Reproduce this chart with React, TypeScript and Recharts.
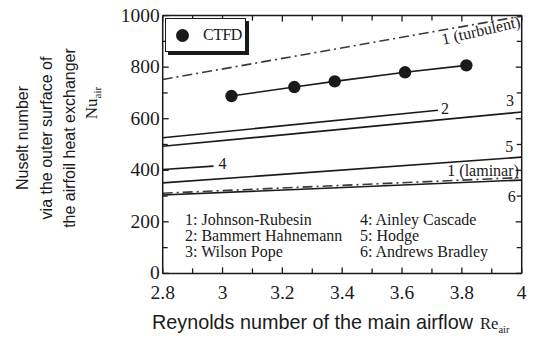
import React from 'react';
import { LineChart, Line, XAxis, YAxis, ReferenceDot } from 'recharts';

// values
const ctfdRe = [3.03, 3.24, 3.375, 3.61, 3.815];
const ctfdNu = [688, 723, 745, 780, 807];

const turbulentRe = [2.8, 4.0];
const turbulentNu = [752, 998];
const bammertRe = [2.8, 3.72];
const bammertNu = [526, 633];
const wilsonRe = [2.8, 4.0];
const wilsonNu = [493, 626];
const ainleyRe = [2.8, 2.97];
const ainleyNu = [403, 416];
const hodgeRe = [2.8, 4.0];
const hodgeNu = [351, 451];
const laminarRe = [2.8, 4.0];
const laminarNu = [311, 372];
const andrewsRe = [2.8, 4.0];
const andrewsNu = [304, 362];

const xTicks = [2.8, 2.9, 3.0, 3.1, 3.2, 3.3, 3.4, 3.5, 3.6, 3.7, 3.8, 3.9, 4.0];
const xLabels = ['2.8', '', '3', '', '3.2', '', '3.4', '', '3.6', '', '3.8', '', '4'];
const yTicks = [0, 100, 200, 300, 400, 500, 600, 700, 800, 900, 1000];
const yLabels = ['0', '', '200', '', '400', '', '600', '', '800', '', '1000'];

const methodNames = [
  '1: Johnson-Rubesin',
  '2: Bammert Hahnemann',
  '3: Wilson Pope',
  '4: Ainley Cascade',
  '5: Hodge',
  '6: Andrews Bradley',
];

// line annotations: text, anchor in data space, rotation
const lineNotes = [
  { text: '1 (turbulent)', re: 3.864, nu: 941, angle: -13 },
  { text: '2', re: 3.744, nu: 639, angle: 0 },
  { text: '3', re: 3.961, nu: 670, angle: 0 },
  { text: '4', re: 3.0, nu: 426, angle: 0 },
  { text: '5', re: 3.958, nu: 490, angle: 0 },
  { text: '1 (laminar)', re: 3.871, nu: 397, angle: 0 },
  { text: '6', re: 3.967, nu: 297, angle: 0 },
];

const toPoints = (re: number[], nu: number[]) => re.map((r, i) => ({ re: r, nu: nu[i] }));

const SERIF = '"Liberation Serif", "DejaVu Serif", serif';
const SANS = '"Liberation Sans", Arial, sans-serif';
const INK = '#1a1a1a';
const DASHDOT = '10 4 2 4';

const W = 533;
const H = 338;

function BottomTick(props: any) {
  const { x, y, index } = props;
  const label = xLabels[index];
  const len = label ? 6 : 5;
  return (
    <g>
      <line x1={x} x2={x} y1={y} y2={y - len} stroke={INK} strokeWidth={1.3} />
      {label && (
        <text x={x} y={y + 25.5} textAnchor="middle" fontFamily={SERIF} fontSize={19.5} fill={INK}>
          {label}
        </text>
      )}
    </g>
  );
}

function TopTick(props: any) {
  const { x, y, index } = props;
  const len = xLabels[index] ? 6 : 5;
  return <line x1={x} x2={x} y1={y} y2={y + len} stroke={INK} strokeWidth={1.3} />;
}

function LeftTick(props: any) {
  const { x, y, index } = props;
  const label = yLabels[index];
  const len = label ? 6 : 5;
  return (
    <g>
      <line x1={x} x2={x + len} y1={y} y2={y} stroke={INK} strokeWidth={1.3} />
      {label && (
        <text x={x - 3} y={y + 6} textAnchor="end" fontFamily={SERIF} fontSize={19.5} fill={INK}>
          {label}
        </text>
      )}
    </g>
  );
}

function RightTick(props: any) {
  const { x, y, index } = props;
  const len = yLabels[index] ? 6 : 5;
  return <line x1={x} x2={x - len} y1={y} y2={y} stroke={INK} strokeWidth={1.3} />;
}

export default function App() {
  const series = [
    { key: 'turb', re: turbulentRe, nu: turbulentNu, dash: DASHDOT, color: '#3a3a3a' },
    { key: 'bam', re: bammertRe, nu: bammertNu, dash: undefined, color: INK },
    { key: 'wil', re: wilsonRe, nu: wilsonNu, dash: undefined, color: INK },
    { key: 'ain', re: ainleyRe, nu: ainleyNu, dash: undefined, color: INK },
    { key: 'hod', re: hodgeRe, nu: hodgeNu, dash: undefined, color: INK },
    { key: 'lam', re: laminarRe, nu: laminarNu, dash: DASHDOT, color: '#3a3a3a' },
    { key: 'and', re: andrewsRe, nu: andrewsNu, dash: undefined, color: INK },
  ];

  return (
    <div style={{ position: 'absolute', left: 0, top: 0, width: W, height: H, background: '#fff' }}>
      <LineChart width={W} height={H} margin={{ top: 14.6, right: 10.3, bottom: 34.6, left: 2 }}>
        <XAxis
          xAxisId="bottom"
          type="number"
          dataKey="re"
          domain={[2.8, 4]}
          ticks={xTicks}
          interval={0}
          height={30}
          tickSize={0}
          tickMargin={0}
          tickLine={false}
          tick={<BottomTick />}
          axisLine={{ stroke: INK, strokeWidth: 1.5 }}
          allowDataOverflow
        />
        <XAxis
          xAxisId="top"
          orientation="top"
          type="number"
          dataKey="re"
          domain={[2.8, 4]}
          ticks={xTicks}
          interval={0}
          height={1}
          tickSize={0}
          tickMargin={0}
          tickLine={false}
          tick={<TopTick />}
          axisLine={{ stroke: INK, strokeWidth: 1.5 }}
          allowDataOverflow
        />
        <YAxis
          yAxisId="left"
          type="number"
          domain={[0, 1000]}
          ticks={yTicks}
          interval={0}
          width={160.7}
          tickSize={0}
          tickMargin={0}
          tickLine={false}
          tick={<LeftTick />}
          axisLine={{ stroke: INK, strokeWidth: 1.5 }}
          allowDataOverflow
        />
        <YAxis
          yAxisId="right"
          orientation="right"
          type="number"
          domain={[0, 1000]}
          ticks={yTicks}
          interval={0}
          width={1}
          tickSize={0}
          tickMargin={0}
          tickLine={false}
          tick={<RightTick />}
          axisLine={{ stroke: INK, strokeWidth: 1.5 }}
          allowDataOverflow
        />
        {series.map((s) => (
          <Line
            key={s.key}
            xAxisId="bottom"
            yAxisId="left"
            data={toPoints(s.re, s.nu)}
            dataKey="nu"
            type="linear"
            stroke={s.color}
            strokeWidth={1.6}
            strokeDasharray={s.dash}
            dot={false}
            isAnimationActive={false}
          />
        ))}
        <Line
          xAxisId="bottom"
          yAxisId="left"
          data={toPoints(ctfdRe, ctfdNu)}
          dataKey="nu"
          type="linear"
          stroke={INK}
          strokeWidth={1.6}
          dot={{ r: 6.2, fill: INK, stroke: INK, strokeWidth: 0 }}
          isAnimationActive={false}
        />
        {lineNotes.map((n) => (
          <ReferenceDot
            key={n.text}
            xAxisId="bottom"
            yAxisId="left"
            x={n.re}
            y={n.nu}
            r={0}
            stroke="none"
            fill="none"
            label={(p: any) => {
              const vb = p.viewBox || {};
              const cx = (vb.x ?? 0) + (vb.width ?? 0) / 2;
              const cy = (vb.y ?? 0) + (vb.height ?? 0) / 2;
              return (
                <text
                  x={cx}
                  y={cy}
                  dy={5}
                  textAnchor="middle"
                  fontFamily={SERIF}
                  fontSize={16}
                  fill={INK}
                  transform={`rotate(${n.angle} ${cx} ${cy})`}
                >
                  {n.text}
                </text>
              );
            }}
          />
        ))}
      </LineChart>

      {/* CTFD legend box */}
      <div
        style={{
          position: 'absolute',
          left: 165,
          top: 18,
          width: 81,
          height: 34,
          boxSizing: 'border-box',
          border: `1px solid ${INK}`,
          boxShadow: `3px 3px 0 ${INK}`,
          background: '#fff',
          display: 'flex',
          alignItems: 'center',
        }}
      >
        <div style={{ width: 13, height: 13, borderRadius: '50%', background: INK, marginLeft: 10 }} />
        <span style={{ fontFamily: SERIF, fontSize: 16, color: INK, marginLeft: 14, letterSpacing: -0.5 }}>CTFD</span>
      </div>

      {/* method list */}
      {methodNames.map((m, i) => (
        <div
          key={m}
          style={{
            position: 'absolute',
            left: i < 3 ? 185 : 360,
            top: 209.5 + (i % 3) * 16.3,
            fontFamily: SERIF,
            fontSize: 16,
            lineHeight: '20px',
            color: INK,
            whiteSpace: 'nowrap',
          }}
        >
          {m}
        </div>
      ))}

      {/* y axis title */}
      <div
        style={{
          position: 'absolute',
          left: 47 - 130,
          top: 138 - 36,
          width: 260,
          height: 72,
          transform: 'rotate(-90deg)',
          textAlign: 'center',
          fontFamily: SANS,
          fontSize: 16,
          lineHeight: '23.5px',
          color: INK,
        }}
      >
        Nuselt number
        <br />
        via the outer surface of
        <br />
        the airfoil heat exchanger
      </div>
      <div
        style={{
          position: 'absolute',
          left: 92 - 30,
          top: 103 - 11,
          width: 60,
          height: 22,
          transform: 'rotate(-90deg)',
          textAlign: 'center',
          fontFamily: SERIF,
          fontSize: 17,
          lineHeight: '22px',
          color: INK,
        }}
      >
        Nu<sub style={{ fontSize: 11 }}>air</sub>
      </div>

      {/* x axis title */}
      <div
        style={{
          position: 'absolute',
          left: 152,
          top: 310,
          fontFamily: SANS,
          fontSize: 19.8,
          lineHeight: '24px',
          color: INK,
          whiteSpace: 'nowrap',
        }}
      >
        Reynolds number of the main airflow
        <span style={{ fontFamily: SERIF, fontSize: 16.5, marginLeft: 7 }}>
          Re<sub style={{ fontSize: 10.5 }}>air</sub>
        </span>
      </div>
    </div>
  );
}
